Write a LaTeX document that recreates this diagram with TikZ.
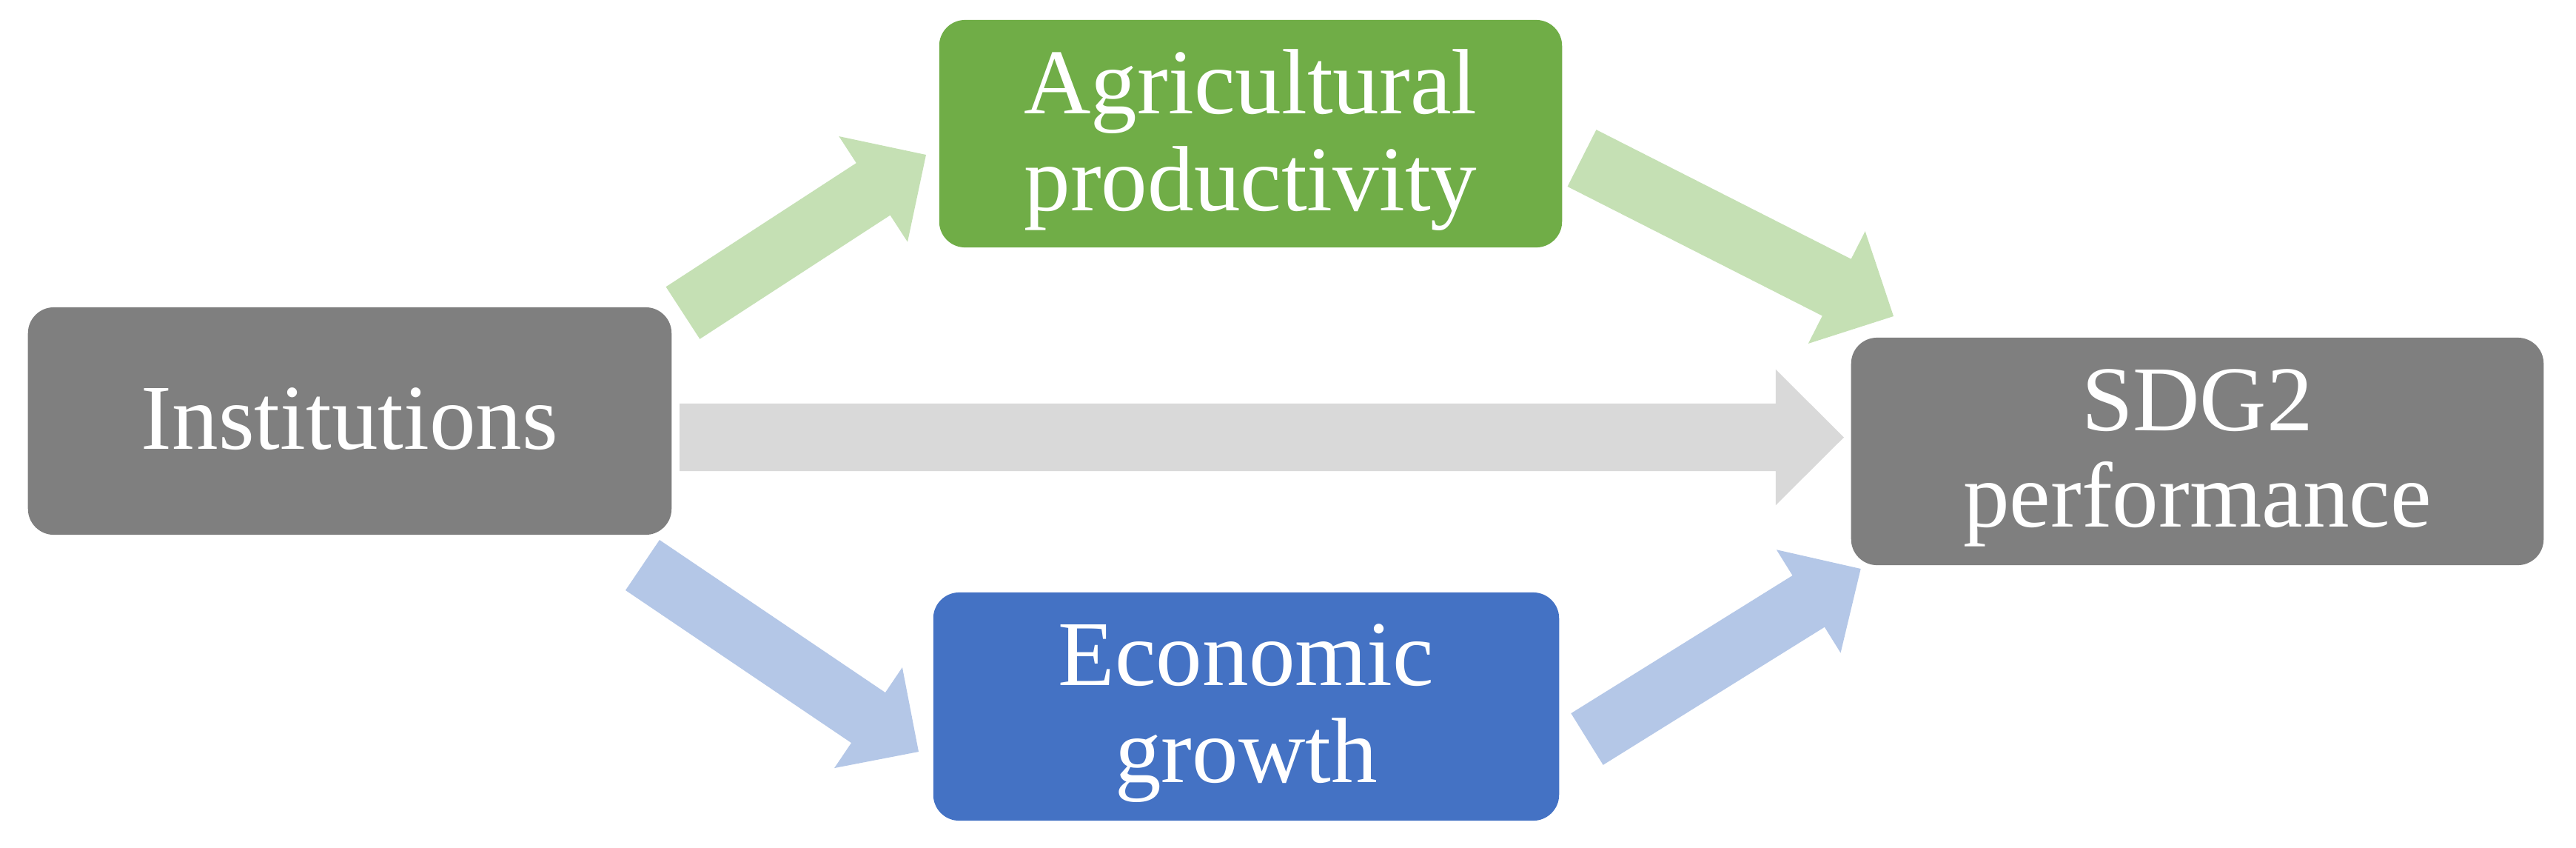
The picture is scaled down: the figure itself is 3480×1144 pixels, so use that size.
\documentclass[tikz,border=0pt]{standalone}
\usepackage{fontspec}
\setmainfont{Liberation Serif}
\usetikzlibrary{calc}
\definecolor{boxgray}{HTML}{7F7F7F}
\definecolor{boxgreen}{HTML}{70AD47}
\definecolor{boxblue}{HTML}{4472C4}
\definecolor{arrgray}{HTML}{D9D9D9}
\definecolor{arrgreen}{HTML}{C5E0B4}
\definecolor{arrblue}{HTML}{B4C7E7}
\newcommand{\blockarr}[6]{%
  \coordinate (hb) at ($(#2)!#6!(#1)$);
  \fill[#3] ($(#1)!#4!90:(#2)$) -- ($(hb)!#4!90:(#2)$) -- ($(hb)!#5!90:(#2)$) -- (#2)
    -- ($(hb)!#5!-90:(#2)$) -- ($(hb)!#4!-90:(#2)$) -- ($(#1)!#4!-90:(#2)$) -- cycle;
}
\tikzset{
  box/.style={rounded corners=0.35cm, inner sep=0pt},
  txt/.style={inner sep=0pt, align=center, text=white,
    font=\fontsize{35.6pt}{37pt}\selectfont},
}
\begin{document}
\begin{tikzpicture}[x=0.01cm,y=-0.01cm]
\useasboundingbox (0,0) rectangle (3480,1144);
% boxes
\node[box, fill=boxgray, minimum width=8.69cm, minimum height=3.07cm,
  label={[txt,yshift=0.03cm]center:Institutions}] (inst) at (472.5,568.5) {};
\node[box, fill=boxgreen, minimum width=8.41cm, minimum height=3.07cm,
  label={[txt,yshift=-0.085cm]center:Agricultural\\productivity}] (agri) at (1689.5,180.5) {};
\node[box, fill=boxblue, minimum width=8.45cm, minimum height=3.08cm,
  label={[txt,yshift=-0.09cm]center:Economic\\growth}] (econ) at (1683.5,954) {};
\node[box, fill=boxgray, minimum width=9.35cm, minimum height=3.07cm,
  label={[txt,yshift=-0.09cm]center:SDG2\\performance}] (sdg) at (2968.5,609.5) {};
% arrow end points
\coordinate (gT) at (918,590.5);   \coordinate (gP) at (2491,590.5);
\coordinate (a1T) at (922.5,422.5); \coordinate (a1P) at (1251,209);
\coordinate (a2T) at (2137,213.5);  \coordinate (a2P) at (2558,427);
\coordinate (b1T) at (868,763);     \coordinate (b1P) at (1241,1015);
\coordinate (b2T) at (2144,998);    \coordinate (b2P) at (2513.7,768);
% arrows
\blockarr{gT}{gP}{arrgray}{0.455cm}{0.915cm}{0.92cm}
\blockarr{a1T}{a1P}{arrgreen}{0.42cm}{0.85cm}{0.85cm}
\blockarr{a2T}{a2P}{arrgreen}{0.43cm}{0.85cm}{0.86cm}
\blockarr{b1T}{b1P}{arrblue}{0.41cm}{0.82cm}{0.82cm}
\blockarr{b2T}{b2P}{arrblue}{0.41cm}{0.82cm}{0.83cm}
\end{tikzpicture}
\end{document}
